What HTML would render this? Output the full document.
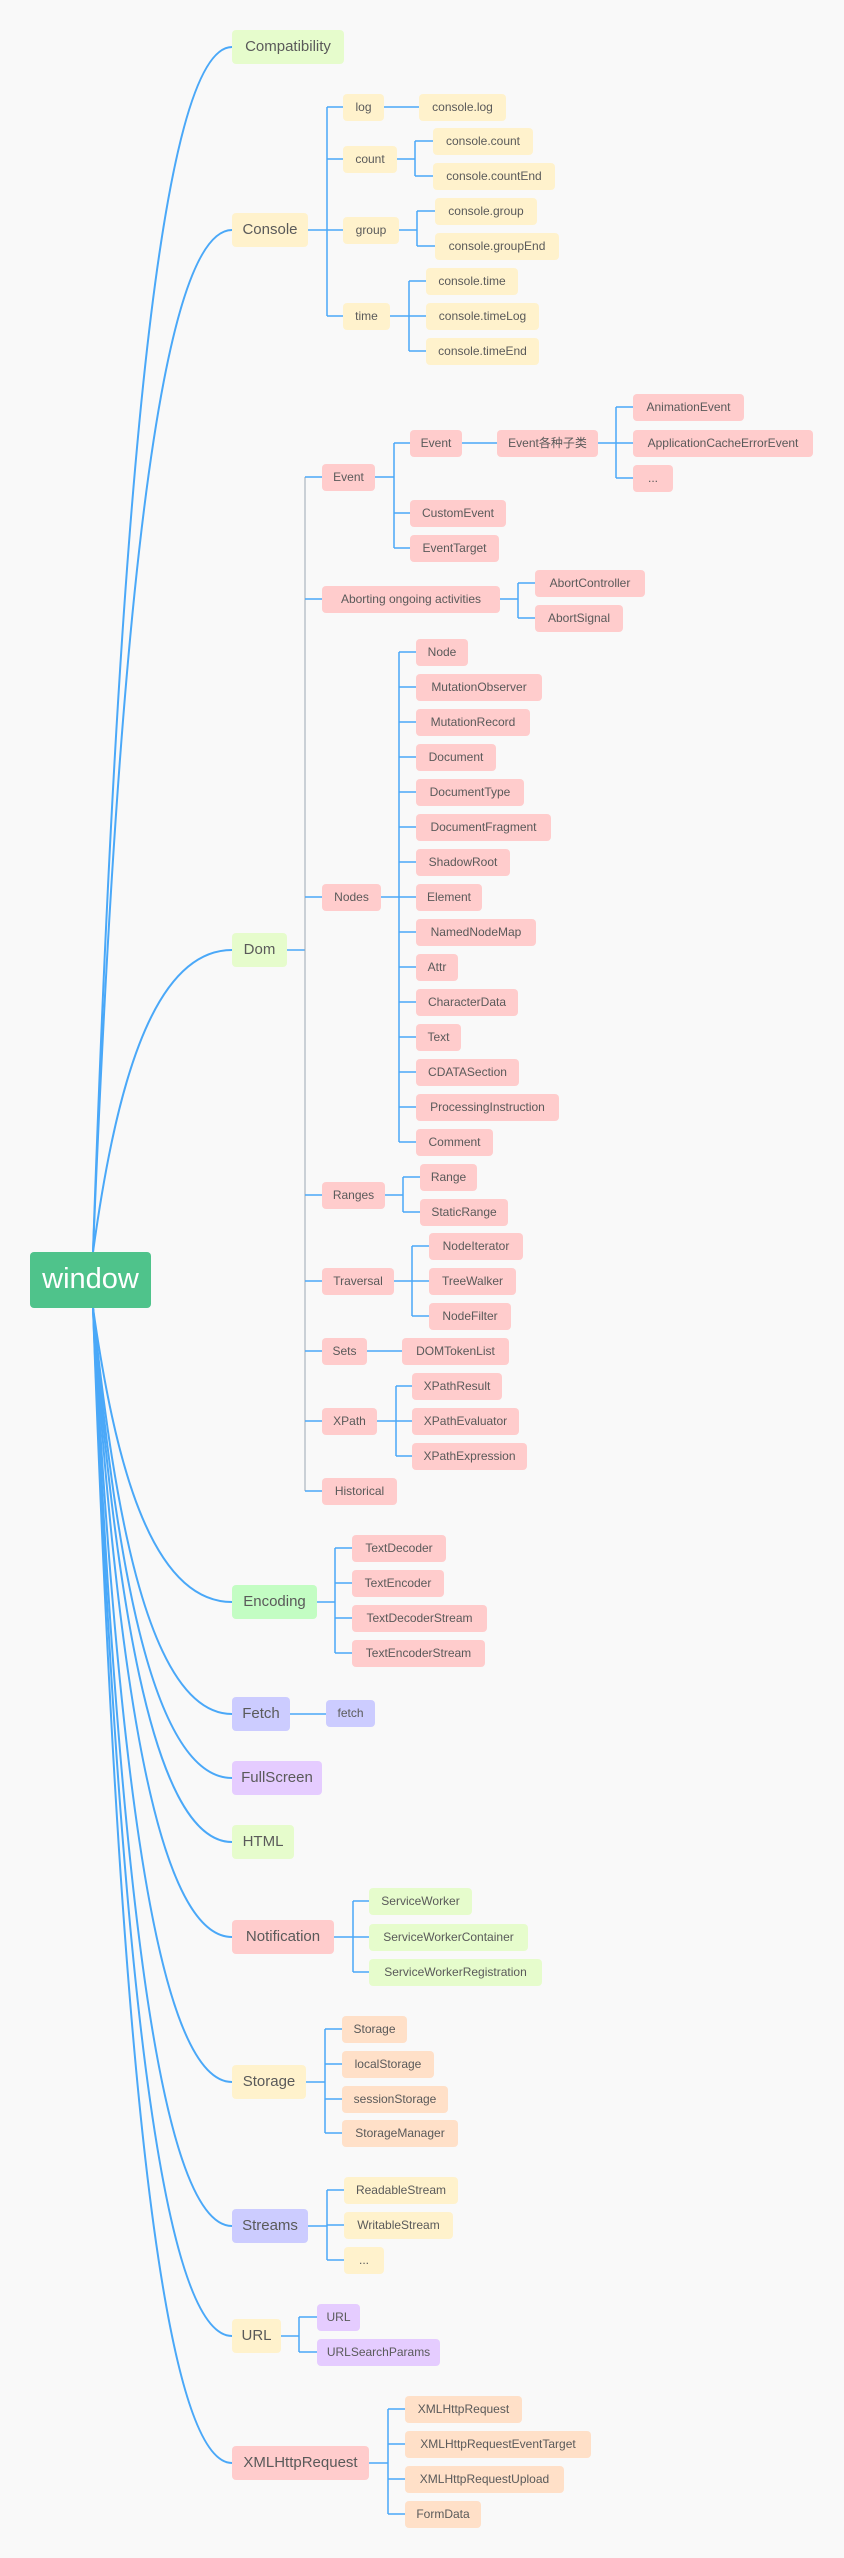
<!DOCTYPE html>
<html><head><meta charset="utf-8"><style>
html,body{margin:0;padding:0;}
body{width:844px;height:2558px;background:#f9f9f9;position:relative;overflow:hidden;font-family:"Liberation Sans","Noto Sans CJK SC",sans-serif;color:#5a5a5a;}
.b{position:absolute;height:27px;line-height:27px;text-align:center;font-size:12px;border-radius:4px;white-space:nowrap;box-sizing:border-box;}
.l1{height:34px;line-height:34px;font-size:15px;}
.p{background:#ffcccc}.y{background:#fff2cc}.g{background:#e6fccc}.gg{background:#c3fdc3}.v{background:#ccccff}.u{background:#e5ccff}.o{background:#ffe0c8}
svg{position:absolute;left:0;top:0;}
</style></head><body>
<svg width="844" height="2558" fill="none" stroke="#4aa8f8" stroke-width="1.5">
<g stroke-width="2">
<path d="M93 1252 C114 649.5 149 47 232 47"/>
<path d="M93 1252 C114 741 149 230 232 230"/>
<path d="M93 1252 C114 1101 149 950 232 950"/>
<path d="M93 1308 C114 1455 149 1602 232 1602"/>
<path d="M93 1308 C114 1511 149 1714 232 1714"/>
<path d="M93 1308 C114 1543 149 1778 232 1778"/>
<path d="M93 1308 C114 1575 149 1842 232 1842"/>
<path d="M93 1308 C114 1622 149 1937 232 1937"/>
<path d="M93 1308 C114 1695 149 2082 232 2082"/>
<path d="M93 1308 C114 1767 149 2226 232 2226"/>
<path d="M93 1308 C114 1822 149 2336 232 2336"/>
<path d="M93 1308 C114 1885 149 2463 232 2463"/>
</g>
<!-- Console -->
<path d="M308 230H327M327 107V316M327 107H343M327 159H343M327 230H343M327 316H343"/>
<path d="M384 107H419"/>
<path d="M397 159H415M415 141V176M415 141H433M415 176H433"/>
<path d="M399 230H417M417 211V246M417 211H435M417 246H435"/>
<path d="M390 316H409M409 281V351M409 281H426M409 316H426M409 351H426"/>
<!-- Dom -->
<path d="M287 950H305" />
<path d="M305 477V1491" stroke="#9aa6b2" stroke-width="1"/>
<path d="M305 477H322M305 599H322M305 897H322M305 1195H322M305 1281H322M305 1351H322M305 1421H322M305 1491H322"/>
<path d="M375 477H394M394 443V548M394 443H410M394 513H410M394 548H410"/>
<path d="M462 443H497"/>
<path d="M598 443H616M616 407V478M616 407H633M616 443H633M616 478H633"/>
<path d="M500 599H518M518 583V618M518 583H535M518 618H535"/>
<path d="M381 897H399M399 652V1142M399 652H416M399 687H416M399 722H416M399 757H416M399 792H416M399 827H416M399 862H416M399 897H416M399 932H416M399 967H416M399 1002H416M399 1037H416M399 1072H416M399 1107H416M399 1142H416"/>
<path d="M385 1195H403M403 1177V1212M403 1177H420M403 1212H420"/>
<path d="M394 1281H412M412 1246V1316M412 1246H429M412 1281H429M412 1316H429"/>
<path d="M367 1351H402"/>
<path d="M377 1421H396M396 1386V1456M396 1386H412M396 1421H412M396 1456H412"/>
<!-- Encoding -->
<path d="M317 1602H335M335 1548V1653M335 1548H352M335 1583H352M335 1618H352M335 1653H352"/>
<path d="M290 1714H326"/>
<path d="M334 1937H353M353 1901V1972M353 1901H369M353 1937H369M353 1972H369"/>
<path d="M306 2082H325M325 2029V2133M325 2029H342M325 2064H342M325 2099H342M325 2133H342"/>
<path d="M308 2226H327M327 2190V2260M327 2190H344M327 2225H344M327 2260H344"/>
<path d="M281 2336H299M299 2317V2352M299 2317H317M299 2352H317"/>
<path d="M369 2463H388M388 2409V2514M388 2409H405M388 2444H405M388 2479H405M388 2514H405"/>
</svg>

<div class="b" style="left:30px;top:1252px;width:121px;height:56px;line-height:54px;background:#4fc38b;color:#fff;font-size:29px;">window</div>

<div class="b l1 g" style="left:232px;top:30px;width:112px">Compatibility</div>
<div class="b l1 y" style="left:232px;top:213px;width:76px">Console</div>
<div class="b l1 g" style="left:232px;top:933px;width:55px">Dom</div>
<div class="b l1 gg" style="left:232px;top:1585px;width:85px">Encoding</div>
<div class="b l1 v" style="left:232px;top:1697px;width:58px">Fetch</div>
<div class="b l1 u" style="left:232px;top:1761px;width:90px">FullScreen</div>
<div class="b l1 g" style="left:232px;top:1825px;width:62px">HTML</div>
<div class="b l1 p" style="left:232px;top:1920px;width:102px">Notification</div>
<div class="b l1 y" style="left:232px;top:2065px;width:74px">Storage</div>
<div class="b l1 v" style="left:232px;top:2209px;width:76px">Streams</div>
<div class="b l1 y" style="left:232px;top:2319px;width:49px">URL</div>
<div class="b l1 p" style="left:232px;top:2446px;width:137px">XMLHttpRequest</div>

<div class="b y" style="left:343px;top:93.5px;width:41px">log</div>
<div class="b y" style="left:343px;top:145.5px;width:54px">count</div>
<div class="b y" style="left:343px;top:216.5px;width:56px">group</div>
<div class="b y" style="left:343px;top:302.5px;width:47px">time</div>
<div class="b y" style="left:419px;top:93.5px;width:87px">console.log</div>
<div class="b y" style="left:433px;top:127.5px;width:100px">console.count</div>
<div class="b y" style="left:433px;top:162.5px;width:122px">console.countEnd</div>
<div class="b y" style="left:435px;top:197.5px;width:102px">console.group</div>
<div class="b y" style="left:435px;top:232.5px;width:124px">console.groupEnd</div>
<div class="b y" style="left:426px;top:267.5px;width:92px">console.time</div>
<div class="b y" style="left:426px;top:302.5px;width:113px">console.timeLog</div>
<div class="b y" style="left:426px;top:337.5px;width:113px">console.timeEnd</div>

<div class="b p" style="left:322px;top:463.5px;width:53px">Event</div>
<div class="b p" style="left:322px;top:585.5px;width:178px">Aborting ongoing activities</div>
<div class="b p" style="left:322px;top:883.5px;width:59px">Nodes</div>
<div class="b p" style="left:322px;top:1181.5px;width:63px">Ranges</div>
<div class="b p" style="left:322px;top:1267.5px;width:72px">Traversal</div>
<div class="b p" style="left:322px;top:1337.5px;width:45px">Sets</div>
<div class="b p" style="left:322px;top:1407.5px;width:55px">XPath</div>
<div class="b p" style="left:322px;top:1477.5px;width:75px">Historical</div>

<div class="b p" style="left:410px;top:429.5px;width:52px">Event</div>
<div class="b p" style="left:410px;top:499.5px;width:96px">CustomEvent</div>
<div class="b p" style="left:410px;top:534.5px;width:89px">EventTarget</div>
<div class="b p" style="left:497px;top:429.5px;width:101px">Event各种子类</div>
<div class="b p" style="left:633px;top:393.5px;width:111px">AnimationEvent</div>
<div class="b p" style="left:633px;top:429.5px;width:180px">ApplicationCacheErrorEvent</div>
<div class="b p" style="left:633px;top:464.5px;width:40px">...</div>
<div class="b p" style="left:535px;top:569.5px;width:110px">AbortController</div>
<div class="b p" style="left:535px;top:604.5px;width:88px">AbortSignal</div>

<div class="b p" style="left:416px;top:638.5px;width:52px">Node</div>
<div class="b p" style="left:416px;top:673.5px;width:126px">MutationObserver</div>
<div class="b p" style="left:416px;top:708.5px;width:114px">MutationRecord</div>
<div class="b p" style="left:416px;top:743.5px;width:80px">Document</div>
<div class="b p" style="left:416px;top:778.5px;width:108px">DocumentType</div>
<div class="b p" style="left:416px;top:813.5px;width:135px">DocumentFragment</div>
<div class="b p" style="left:416px;top:848.5px;width:94px">ShadowRoot</div>
<div class="b p" style="left:416px;top:883.5px;width:66px">Element</div>
<div class="b p" style="left:416px;top:918.5px;width:120px">NamedNodeMap</div>
<div class="b p" style="left:416px;top:953.5px;width:42px">Attr</div>
<div class="b p" style="left:416px;top:988.5px;width:102px">CharacterData</div>
<div class="b p" style="left:416px;top:1023.5px;width:45px">Text</div>
<div class="b p" style="left:416px;top:1058.5px;width:103px">CDATASection</div>
<div class="b p" style="left:416px;top:1093.5px;width:143px">ProcessingInstruction</div>
<div class="b p" style="left:416px;top:1128.5px;width:77px">Comment</div>

<div class="b p" style="left:420px;top:1163.5px;width:57px">Range</div>
<div class="b p" style="left:420px;top:1198.5px;width:88px">StaticRange</div>
<div class="b p" style="left:429px;top:1232.5px;width:94px">NodeIterator</div>
<div class="b p" style="left:429px;top:1267.5px;width:87px">TreeWalker</div>
<div class="b p" style="left:429px;top:1302.5px;width:82px">NodeFilter</div>
<div class="b p" style="left:402px;top:1337.5px;width:107px">DOMTokenList</div>
<div class="b p" style="left:412px;top:1372.5px;width:90px">XPathResult</div>
<div class="b p" style="left:412px;top:1407.5px;width:107px">XPathEvaluator</div>
<div class="b p" style="left:412px;top:1442.5px;width:115px">XPathExpression</div>

<div class="b p" style="left:352px;top:1534.5px;width:94px">TextDecoder</div>
<div class="b p" style="left:352px;top:1569.5px;width:92px">TextEncoder</div>
<div class="b p" style="left:352px;top:1604.5px;width:135px">TextDecoderStream</div>
<div class="b p" style="left:352px;top:1639.5px;width:133px">TextEncoderStream</div>

<div class="b v" style="left:326px;top:1699.5px;width:49px">fetch</div>

<div class="b g" style="left:369px;top:1887.5px;width:103px">ServiceWorker</div>
<div class="b g" style="left:369px;top:1923.5px;width:159px">ServiceWorkerContainer</div>
<div class="b g" style="left:369px;top:1958.5px;width:173px">ServiceWorkerRegistration</div>

<div class="b o" style="left:342px;top:2015.5px;width:65px">Storage</div>
<div class="b o" style="left:342px;top:2050.5px;width:92px">localStorage</div>
<div class="b o" style="left:342px;top:2085.5px;width:106px">sessionStorage</div>
<div class="b o" style="left:342px;top:2119.5px;width:116px">StorageManager</div>

<div class="b y" style="left:344px;top:2176.5px;width:114px">ReadableStream</div>
<div class="b y" style="left:344px;top:2211.5px;width:109px">WritableStream</div>
<div class="b y" style="left:344px;top:2246.5px;width:40px">...</div>

<div class="b u" style="left:317px;top:2303.5px;width:43px">URL</div>
<div class="b u" style="left:317px;top:2338.5px;width:123px">URLSearchParams</div>

<div class="b o" style="left:405px;top:2395.5px;width:117px">XMLHttpRequest</div>
<div class="b o" style="left:405px;top:2430.5px;width:186px">XMLHttpRequestEventTarget</div>
<div class="b o" style="left:405px;top:2465.5px;width:159px">XMLHttpRequestUpload</div>
<div class="b o" style="left:405px;top:2500.5px;width:76px">FormData</div>
</body></html>
